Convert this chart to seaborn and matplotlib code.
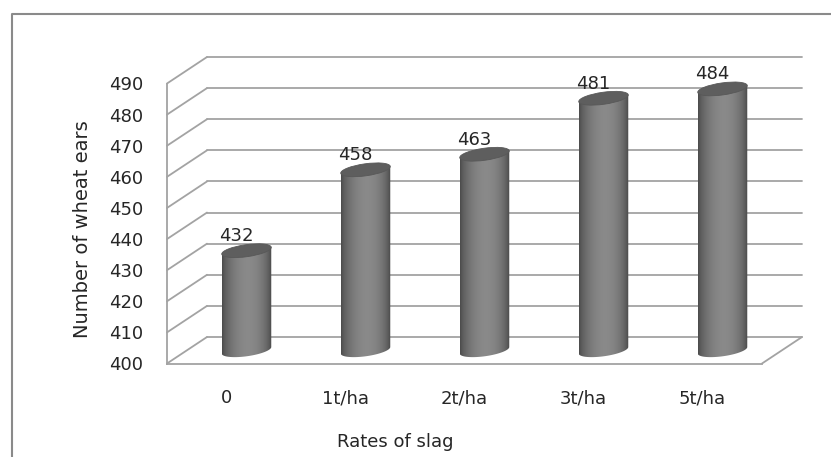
import numpy as np
import pandas as pd
import matplotlib
matplotlib.use("Agg")
import matplotlib.pyplot as plt
import matplotlib.transforms as mtransforms
from matplotlib.patches import Ellipse, ConnectionPatch, PathPatch
from matplotlib.path import Path
from matplotlib.lines import Line2D
import seaborn as sns

# ---- data ----
categories = ["0", "1t/ha", "2t/ha", "3t/ha", "5t/ha"]
ears = [432, 458, 463, 481, 484]
y_ticks = [400, 410, 420, 430, 440, 450, 460, 470, 480, 490]
x_title = "Rates of slag"
y_title = "Number of wheat ears"

df = pd.DataFrame({"rate": categories, "ears": ears})

sns.set_theme(style="white")
plt.rcParams["font.family"] = ["DejaVu Sans"]

W, H = 831, 457
fig = plt.figure(figsize=(W / 100, H / 100), dpi=100)
fig.patch.set_facecolor("white")

def rect(x0, y_bottom_img, w, h):
    return [x0 / W, (H - y_bottom_img) / H, w / W, h / H]

FX, FY = 167, 363.5      # front plane origin (image px)
PW, PH = 595, 280        # plane size
DX, DY = 40, 26.5        # depth offset

GRID = "#a3a3a3"
TXT = "#262626"
YMIN, YMAX = 400, 490
UNIT_PER_PX = (YMAX - YMIN) / PH

# back wall
ax_back = fig.add_axes(rect(FX + DX, FY - DY, PW, PH))
ax_back.set_xlim(-0.5, 4.5)
ax_back.set_ylim(YMIN, YMAX)
ax_back.set_yticks(y_ticks)
ax_back.set_xticks([])
ax_back.patch.set_alpha(0)
for s in ax_back.spines.values():
    s.set_visible(False)
ax_back.tick_params(left=False, labelleft=False)
ax_back.grid(True, axis="y", color=GRID, lw=1.3)
for gl in ax_back.get_ygridlines():
    gl.set_clip_on(False)

# front plane (axis, ticks, labels)
ax = fig.add_axes(rect(FX, FY, PW, PH))
ax.set_xlim(-0.5, 4.5)
ax.set_ylim(YMIN, YMAX)
ax.patch.set_alpha(0)
ax.set_yticks(y_ticks)
ax.set_yticklabels([str(v) for v in y_ticks])
ax.set_xticks(range(len(categories)))
ax.set_xticklabels(categories)
ax.tick_params(axis="y", length=0, pad=17.3, labelsize=13, labelcolor=TXT)
ax.tick_params(axis="x", length=0, pad=18.5, labelsize=13, labelcolor=TXT)
for k in ["top", "right"]:
    ax.spines[k].set_visible(False)
for k in ["left", "bottom"]:
    ax.spines[k].set_color(GRID)
    ax.spines[k].set_linewidth(1.3)
ax.set_ylabel(y_title, fontsize=14, color=TXT)
ax.yaxis.label.set_va("baseline")
ax.yaxis.set_label_coords((88.5 - FX) / PW, (FY - 229.5) / PH)
ax.set_xlabel(x_title, fontsize=13, color=TXT)
ax.xaxis.label.set_va("baseline")
ax.xaxis.set_label_coords((395 - FX) / PW, (FY - 447) / PH)

# depth connectors
for v in y_ticks:
    cp = ConnectionPatch(xyA=(-0.5, v), coordsA=ax.transData,
                         xyB=(-0.5, v), coordsB=ax_back.transData,
                         color=GRID, lw=1.3)
    fig.add_artist(cp)
cp = ConnectionPatch(xyA=(4.5, YMIN), coordsA=ax.transData,
                     xyB=(4.5, YMIN), coordsB=ax_back.transData,
                     color=GRID, lw=1.3)
fig.add_artist(cp)

# bars in the middle depth plane (axes extended a little below 400
# so the rounded bottoms of the cylinders are not cut off)
EXT = 20
ax_bar = fig.add_axes(rect(FX + DX / 2, FY - DY / 2 + EXT, PW, PH + EXT))
bw = 0.42
sns.barplot(data=df, x="rate", y="ears", ax=ax_bar, width=bw,
            color="#707070", saturation=1, edgecolor="none")
BAR_YLIM = (YMIN - EXT * UNIT_PER_PX, YMAX)
ax_bar.set_xlim(-0.5, 4.5)
ax_bar.set_ylim(*BAR_YLIM)
ax_bar.set_autoscale_on(False)
ax_bar.axis("off")
ax_bar.patch.set_alpha(0)

px_per_x = ax_bar.transData.transform((1, 0))[0] - ax_bar.transData.transform((0, 0))[0]
ell_w = bw * px_per_x
ell_h = 12
tilt = 8
a, b = ell_w / 2, ell_h / 2
th = np.deg2rad(tilt)

def ell_pts(thetas):
    x = a * np.cos(thetas)
    y = b * np.sin(thetas)
    return np.column_stack([x * np.cos(th) - y * np.sin(th),
                            x * np.sin(th) + y * np.cos(th)])

t = np.linspace(0, 1, 200)
bright = 0.28 + 0.28 * np.sin(np.pi * t ** 1.15) ** 0.55 - 0.04 * t
grad = np.repeat(bright[None, :, None], 3, axis=2)

for patch, val in zip(ax_bar.patches, ears):
    x0 = patch.get_x()
    w = patch.get_width()
    xc = x0 + w / 2
    top_y = patch.get_y() + patch.get_height()
    patch.set_facecolor("none")
    # cylinder silhouette (in pixels, anchored at the bar's floor centre)
    h_px = (ax_bar.transData.transform((xc, top_y))[1]
            - ax_bar.transData.transform((xc, YMIN))[1])
    lower = ell_pts(np.linspace(np.pi, 2 * np.pi, 80))
    tl = lower[0] + np.array([0, h_px])
    tr = lower[-1] + np.array([0, h_px])
    verts = np.vstack([tl, lower, tr, tl])
    codes = [Path.MOVETO] + [Path.LINETO] * (len(verts) - 2) + [Path.CLOSEPOLY]
    sil = PathPatch(Path(verts, codes),
                    transform=mtransforms.ScaledTranslation(xc, YMIN, ax_bar.transData))
    im = ax_bar.imshow(grad, extent=(x0, x0 + w, YMIN - 6, YMAX + 5), aspect="auto",
                       origin="lower", interpolation="bilinear", zorder=2)
    im.set_clip_path(sil)
    # top cap
    top = Ellipse((0, 0), ell_w, ell_h, angle=tilt,
                  transform=mtransforms.ScaledTranslation(xc, top_y, ax_bar.transData),
                  facecolor="#5e5e5e", edgecolor="#585858", lw=0.6, zorder=3)
    top.set_clip_on(False)
    ax_bar.add_artist(top)
    ax_bar.annotate(str(val), xy=(xc, top_y), xytext=(-10, 9.5),
                    textcoords="offset pixels", ha="center", va="baseline",
                    fontsize=13, color=TXT, annotation_clip=False)

ax_bar.set_xlim(-0.5, 4.5)
ax_bar.set_ylim(*BAR_YLIM)

# outer frame
fig.add_artist(Line2D([12 / W, 12 / W, 1.01], [-0.02, (H - 14) / H, (H - 14) / H],
                      transform=fig.transFigure, color="#8a8a8a", lw=1.5))

fig.savefig("out.png", dpi=100)
